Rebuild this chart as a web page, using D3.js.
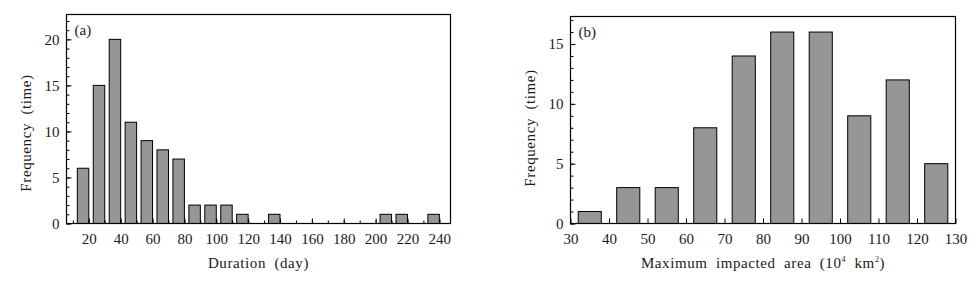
<!DOCTYPE html>
<html>
<head>
<meta charset="utf-8">
<script src="https://cdn.jsdelivr.net/npm/d3@7"></script>
<style>
  body { margin: 0; background: #fff; }
  text { font-family: "Liberation Serif", "DejaVu Serif", serif; fill: #1a1a1a; }
</style>
</head>
<body>
<div id="chart"></div>
<script>
// panel (a): duration bins (right edge of each bin, days) and counts
const durationBins = [20, 30, 40, 50, 60, 70, 80, 90, 100, 110, 120, 130, 140, 150, 160, 170, 180, 190, 200, 210, 220, 230, 240];
const durationCounts = [6, 15, 20, 11, 9, 8, 7, 2, 2, 2, 1, 0, 1, 0, 0, 0, 0, 0, 0, 1, 1, 0, 1];
const durationTicks = [20, 40, 60, 80, 100, 120, 140, 160, 180, 200, 220, 240];
const freqTicksA = [0, 5, 10, 15, 20];

// panel (b): maximum impacted area bin centres (10^4 km2) and counts
const areaBins = [35, 45, 55, 65, 75, 85, 95, 105, 115, 125];
const areaCounts = [1, 3, 3, 8, 14, 16, 16, 9, 12, 5];
const areaTicks = [30, 40, 50, 60, 70, 80, 90, 100, 110, 120, 130];
const freqTicksB = [0, 5, 10, 15];

const svg = d3.select("#chart").append("svg")
  .attr("width", 980)
  .attr("height", 292);

// draws one framed panel, returns scales
function panel(opt) {
  const g = svg.append("g");
  const x = d3.scaleLinear().domain(opt.xDomain).range([opt.left, opt.right]);
  const y = d3.scaleLinear().domain(opt.yDomain).range([opt.bottom, opt.top]);

  // bars
  g.selectAll("rect.bar")
    .data(opt.data)
    .join("rect")
      .attr("class", "bar")
      .attr("x", d => x(d.x0))
      .attr("y", d => y(d.n))
      .attr("width", d => x(d.x1) - x(d.x0))
      .attr("height", d => y(0) - y(d.n))
      .attr("fill", "#969696")
      .attr("stroke", "#000")
      .attr("stroke-width", 1);

  // minor ticks first, no labels
  g.append("g")
    .attr("transform", `translate(0,${opt.bottom})`)
    .call(d3.axisBottom(x).tickValues(opt.xMinor).tickSize(-3).tickFormat(""))
    .call(a => a.select(".domain").remove());
  g.append("g")
    .attr("transform", `translate(${opt.left},0)`)
    .call(d3.axisLeft(y).tickValues(opt.yMinor).tickSize(-3).tickFormat(""))
    .call(a => a.select(".domain").remove());

  // major ticks with labels
  const xa = g.append("g")
    .attr("transform", `translate(0,${opt.bottom})`)
    .call(d3.axisBottom(x).tickValues(opt.xTicks).tickSize(-5).tickPadding(10).tickFormat(d3.format("d")));
  xa.select(".domain").remove();
  xa.selectAll("text").attr("font-size", 15).attr("font-family", "Liberation Serif");

  const ya = g.append("g")
    .attr("transform", `translate(${opt.left},0)`)
    .call(d3.axisLeft(y).tickValues(opt.yTicks).tickSize(-5).tickPadding(7).tickFormat(d3.format("d")));
  ya.select(".domain").remove();
  ya.selectAll("text").attr("font-size", 15).attr("font-family", "Liberation Serif");

  g.selectAll(".tick line").attr("stroke", "#000");

  // frame
  g.append("rect")
    .attr("x", opt.left).attr("y", opt.top)
    .attr("width", opt.right - opt.left)
    .attr("height", opt.bottom - opt.top)
    .attr("fill", "none")
    .attr("stroke", "#000")
    .attr("stroke-width", 1.2);

  // labels
  g.append("text")
    .attr("x", (opt.left + opt.right) / 2)
    .attr("y", 268)
    .attr("text-anchor", "middle")
    .attr("font-size", 15)
    .attr("letter-spacing", 0.6)
    .attr("word-spacing", 4)
    .text(opt.xLabel);

  g.append("text")
    .attr("transform", `translate(${opt.left - 36},${opt.yLabelY}) rotate(-90)`)
    .attr("text-anchor", "middle")
    .attr("font-size", 15)
    .attr("letter-spacing", 0.6)
    .attr("word-spacing", 4)
    .text("Frequency (time)");

  g.append("text")
    .attr("x", opt.left + 8)
    .attr("y", opt.top + 20)
    .attr("font-size", 15)
    .text(opt.tag);

  return { x, y };
}

// (a) bars end on the bin edge, 7 days wide
panel({
  left: 66.5, right: 450.5, top: 14.5, bottom: 223.5,
  xDomain: [6, 247], yDomain: [0, 22.7],
  data: durationBins.map((b, i) => ({ x0: b - 7.2, x1: b, n: durationCounts[i] })).filter(d => d.n > 0),
  xTicks: durationTicks,
  xMinor: d3.range(10, 250, 10),
  yTicks: freqTicksA,
  yMinor: d3.range(0, 23, 1),
  xLabel: "Duration (day)",
  yLabelY: 133,
  tag: "(a)"
});

// (b) bars centred on the bin, 6 units wide
panel({
  left: 570.5, right: 955.5, top: 16.5, bottom: 223.5,
  xDomain: [30, 130], yDomain: [0, 17.3],
  data: areaBins.map((b, i) => ({ x0: b - 3, x1: b + 3, n: areaCounts[i] })),
  xTicks: areaTicks,
  xMinor: [],
  yTicks: freqTicksB,
  yMinor: d3.range(0, 18, 1),
  xLabel: "",
  yLabelY: 128,
  tag: "(b)"
});

// axis title with superscripts
const t = svg.append("text")
  .attr("x", (570.5 + 955.5) / 2)
  .attr("y", 268)
  .attr("text-anchor", "middle")
  .attr("font-size", 15)
  .attr("letter-spacing", 0.6)
  .attr("word-spacing", 4);
t.append("tspan").text("Maximum impacted area (10");
t.append("tspan").attr("font-size", 8).attr("dy", -6).text("4");
t.append("tspan").attr("dy", 6).text(" km");
t.append("tspan").attr("font-size", 8).attr("dy", -6).text("2");
t.append("tspan").attr("dy", 6).text(")");
</script>
</body>
</html>
